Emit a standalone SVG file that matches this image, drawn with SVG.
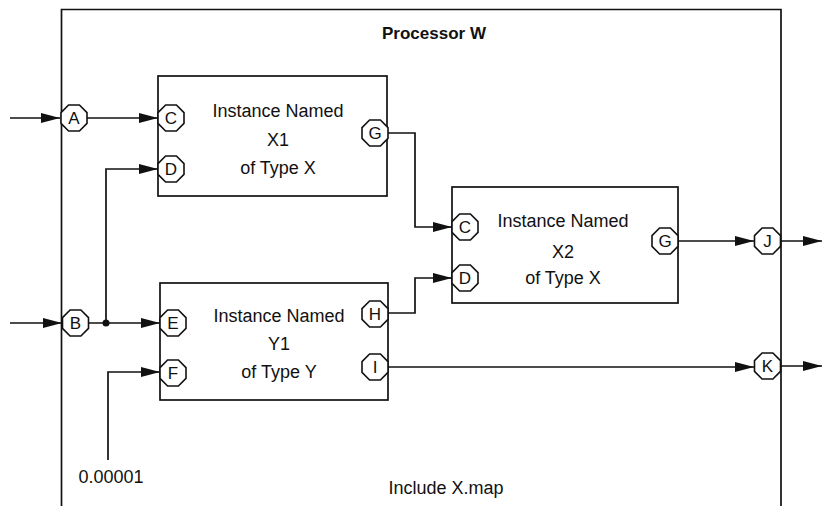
<svg xmlns="http://www.w3.org/2000/svg" width="822" height="506" viewBox="0 0 822 506">
<defs>
<style>
.ln{fill:none;stroke:#111;stroke-width:1.7}
.box{fill:#fff;stroke:#111;stroke-width:1.7}
.oct{fill:#fff;stroke:#111;stroke-width:1.6}
.t{font-family:"Liberation Sans",Arial,sans-serif;font-size:18px;fill:#111;text-anchor:middle}
.p{font-family:"Liberation Sans",Arial,sans-serif;font-size:17px;fill:#111;text-anchor:middle}
.b{font-family:"Liberation Sans",Arial,sans-serif;font-size:17px;font-weight:bold;fill:#111;text-anchor:middle}
</style>
<marker id="ar" markerUnits="userSpaceOnUse" markerWidth="19" markerHeight="11" refX="19" refY="5" orient="auto">
<path d="M0,0 L19,5 L0,10 z" fill="#111"/>
</marker>
<polygon id="o" points="-5.4,-13 5.4,-13 13,-5.4 13,5.4 5.4,13 -5.4,13 -13,5.4 -13,-5.4"/>
</defs>
<rect width="822" height="506" fill="#fff"/>

<g id="processor">
<path class="ln" d="M61.5,506 V9.5 H781 V506"/>
<text class="b" x="434" y="39">Processor W</text>
<text class="t" x="446" y="494">Include X.map</text>
<text class="t" x="111" y="483">0.00001</text>
</g>

<g id="connectors">
<path class="ln" d="M10,118 H60" marker-end="url(#ar)"/>
<path class="ln" d="M86,118 H158" marker-end="url(#ar)"/>
<path class="ln" d="M10,323 H62" marker-end="url(#ar)"/>
<path class="ln" d="M89,323 H160" marker-end="url(#ar)"/>
<path class="ln" d="M106,323 V169 H158" marker-end="url(#ar)"/>
<circle cx="106" cy="323" r="3.5" fill="#111"/>
<path class="ln" d="M108,460 V372 H160" marker-end="url(#ar)"/>
<path class="ln" d="M388,133 H415 V227 H452" marker-end="url(#ar)"/>
<path class="ln" d="M388,313 H415 V278 H452" marker-end="url(#ar)"/>
<path class="ln" d="M678,241 H754" marker-end="url(#ar)"/>
<path class="ln" d="M781,241 H822" marker-end="url(#ar)"/>
<path class="ln" d="M388,367 H754" marker-end="url(#ar)"/>
<path class="ln" d="M781,366 H822" marker-end="url(#ar)"/>
</g>

<g id="portA"><use href="#o" class="oct" x="74" y="118"/><text class="p" x="74" y="124">A</text></g>
<g id="portB"><use href="#o" class="oct" x="75.5" y="323"/><text class="p" x="75.5" y="329">B</text></g>
<g id="portJ"><use href="#o" class="oct" x="767.5" y="241"/><text class="p" x="767.5" y="247">J</text></g>
<g id="portK"><use href="#o" class="oct" x="767.5" y="366"/><text class="p" x="767.5" y="372">K</text></g>

<g id="X1">
<rect class="box" x="158" y="76" width="229" height="120"/>
<text class="t" x="278" y="117">Instance Named</text>
<text class="t" x="278" y="146">X1</text>
<text class="t" x="278" y="174">of Type X</text>
<use href="#o" class="oct" x="171" y="118"/><text class="p" x="171" y="124">C</text>
<use href="#o" class="oct" x="171" y="169"/><text class="p" x="171" y="175">D</text>
<use href="#o" class="oct" x="375" y="133"/><text class="p" x="375" y="139">G</text>
</g>

<g id="X2">
<rect class="box" x="452" y="187" width="226" height="116"/>
<text class="t" x="563" y="227">Instance Named</text>
<text class="t" x="563" y="258">X2</text>
<text class="t" x="563" y="284">of Type X</text>
<use href="#o" class="oct" x="465" y="227"/><text class="p" x="465" y="233">C</text>
<use href="#o" class="oct" x="465" y="278"/><text class="p" x="465" y="284">D</text>
<use href="#o" class="oct" x="665" y="241"/><text class="p" x="665" y="247">G</text>
</g>

<g id="Y1">
<rect class="box" x="160" y="283" width="228" height="117"/>
<text class="t" x="279" y="322">Instance Named</text>
<text class="t" x="279" y="350">Y1</text>
<text class="t" x="279" y="378">of Type Y</text>
<use href="#o" class="oct" x="173" y="323"/><text class="p" x="173" y="329">E</text>
<use href="#o" class="oct" x="173" y="373"/><text class="p" x="173" y="379">F</text>
<use href="#o" class="oct" x="375" y="314"/><text class="p" x="375" y="320">H</text>
<use href="#o" class="oct" x="375" y="367"/><text class="p" x="375" y="373">I</text>
</g>
</svg>
